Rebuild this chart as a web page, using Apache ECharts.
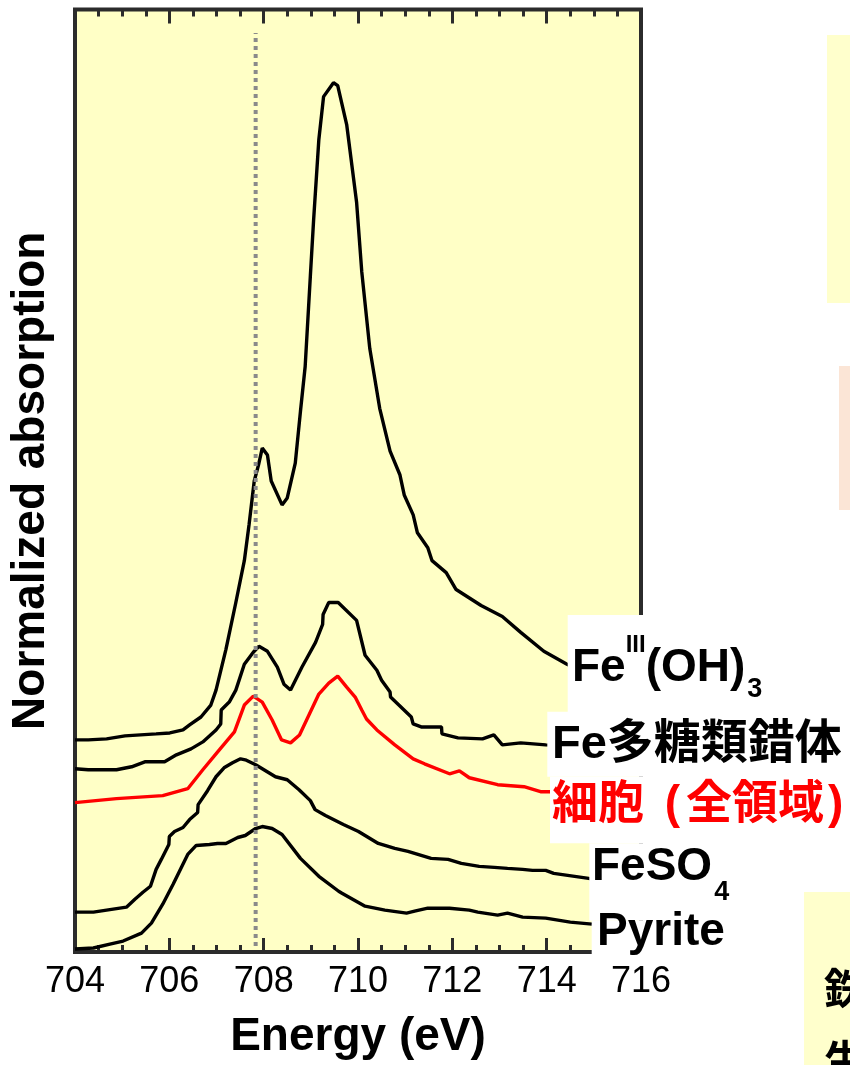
<!DOCTYPE html>
<html>
<head>
<meta charset="utf-8">
<script src="https://cdn.jsdelivr.net/npm/echarts@6/dist/echarts.min.js"></script>
<style>
  html, body { margin: 0; padding: 0; background: #ffffff; }
  #chart { width: 850px; height: 1065px; }
</style>
</head>
<body>
<div id="chart"></div>
<script>
// Fe L-edge XANES spectra, offset vertically (energy in eV, absorption in arbitrary units)
const energyTicks = [704, 706, 708, 710, 712, 714, 716];

const feOH3 = [[704.0,2.13],[704.28,2.13],[704.67,2.14],[705.06,2.17],[705.09,2.19],[705.72,2.19],[706.01,2.20],[706.29,2.23],[706.43,2.28],[706.67,2.36],[706.88,2.48],[706.99,2.63],[707.20,3.04],[707.41,3.51],[707.59,3.93],[707.69,4.29],[707.80,4.73],[707.89,4.89],[707.97,5.06],[708.08,4.99],[708.16,4.73],[708.39,4.49],[708.50,4.56],[708.67,4.91],[708.78,5.43],[708.88,5.88],[708.99,6.79],[709.06,7.36],[709.17,8.16],[709.27,8.59],[709.48,8.73],[709.57,8.70],[709.76,8.31],[709.97,7.53],[710.08,6.83],[710.25,6.06],[710.46,5.46],[710.68,5.03],[710.89,4.79],[710.98,4.59],[711.17,4.39],[711.26,4.21],[711.48,4.06],[711.57,3.93],[711.87,3.81],[712.08,3.64],[712.61,3.48],[713.06,3.37],[713.45,3.21],[713.94,3.02],[714.43,2.89],[714.93,2.78],[715.0,2.77]];

const fePolysaccharide = [[704.0,1.84],[704.28,1.83],[704.88,1.83],[705.20,1.86],[705.48,1.91],[705.90,1.91],[706.15,1.98],[706.46,2.04],[706.71,2.11],[706.99,2.23],[707.09,2.29],[707.10,2.43],[707.27,2.51],[707.41,2.63],[707.59,2.89],[707.78,3.01],[707.90,3.07],[708.08,3.02],[708.29,2.86],[708.43,2.69],[708.57,2.63],[708.81,2.86],[709.10,3.11],[709.25,3.29],[709.26,3.39],[709.38,3.51],[709.58,3.51],[709.97,3.33],[710.15,2.98],[710.40,2.83],[710.50,2.73],[710.68,2.61],[710.69,2.56],[711.13,2.36],[711.17,2.29],[711.34,2.26],[711.77,2.26],[711.78,2.19],[712.12,2.15],[712.64,2.14],[712.88,2.18],[713.06,2.08],[713.45,2.10],[713.98,2.08],[715.0,2.07]];

const cellWhole = [[704.0,1.50],[704.88,1.54],[705.86,1.57],[706.39,1.64],[706.71,1.83],[707.06,2.03],[707.38,2.21],[707.59,2.48],[707.78,2.57],[707.97,2.51],[708.18,2.33],[708.38,2.13],[708.57,2.10],[708.76,2.18],[708.96,2.38],[709.17,2.59],[709.38,2.70],[709.57,2.77],[709.76,2.66],[709.94,2.56],[710.08,2.43],[710.18,2.34],[710.40,2.23],[710.78,2.08],[711.17,1.94],[711.41,1.89],[711.94,1.79],[712.15,1.82],[712.36,1.75],[712.96,1.68],[713.52,1.66],[713.87,1.61],[714.05,1.61],[715.0,1.60]];

const feSO4 = [[704.0,0.40],[704.39,0.40],[705.09,0.45],[705.27,0.53],[705.44,0.60],[705.60,0.66],[705.72,0.83],[705.83,0.93],[705.99,1.08],[706.00,1.16],[706.11,1.21],[706.29,1.25],[706.43,1.33],[706.60,1.40],[706.61,1.48],[706.81,1.62],[706.99,1.76],[707.16,1.85],[707.34,1.90],[707.51,1.94],[707.61,1.93],[707.83,1.88],[708.25,1.76],[708.50,1.73],[708.75,1.63],[708.99,1.52],[709.09,1.43],[709.31,1.37],[709.69,1.28],[710.01,1.21],[710.43,1.09],[710.78,1.04],[711.06,1.01],[711.55,0.94],[711.91,0.93],[712.19,0.89],[712.57,0.86],[712.89,0.85],[713.17,0.84],[713.49,0.83],[713.70,0.82],[713.98,0.82],[714.15,0.79],[714.89,0.74],[715.0,0.73]];

const pyrite = [[704.0,0.03],[704.39,0.04],[704.74,0.08],[705.02,0.11],[705.41,0.19],[705.62,0.29],[705.86,0.48],[706.08,0.68],[706.39,0.98],[706.57,1.07],[706.85,1.08],[707.02,1.09],[707.20,1.09],[707.45,1.15],[707.61,1.17],[707.83,1.24],[707.97,1.26],[708.18,1.24],[708.39,1.18],[708.78,0.94],[709.17,0.76],[709.59,0.61],[709.66,0.59],[710.15,0.46],[710.57,0.42],[711.03,0.39],[711.20,0.41],[711.48,0.44],[711.94,0.44],[712.36,0.42],[712.54,0.40],[712.96,0.37],[713.17,0.39],[713.49,0.35],[713.98,0.34],[714.50,0.30],[714.96,0.28]];

// Fe(II) reference energy marker
const refLine = [[707.83, 0.06], [707.83, 9.23]];

const LAT = '"Liberation Sans", Arial, sans-serif';
const MIX = '"Liberation Sans", "Noto Sans CJK JP", sans-serif';
const FRAME = '#2b2b2b';

const chart = echarts.init(document.getElementById('chart'), null, { renderer: 'canvas' });

function curve(name, data, color) {
  return {
    name, type: 'line', data,
    xAxisIndex: 0, yAxisIndex: 0,
    showSymbol: false, symbol: 'none', smooth: false,
    lineStyle: { color, width: 3.4 },
    z: 3, animation: false
  };
}

const tickAxis = (pos, showLabel) => ({
  type: 'value', position: pos, gridIndex: 0,
  min: energyTicks[0], max: energyTicks[energyTicks.length - 1], interval: 2,
  axisLine: { show: false },
  axisTick: { show: true, inside: true, length: 14, lineStyle: { color: FRAME, width: 3 } },
  minorTick: { show: true, splitNumber: 4, length: 7, lineStyle: { color: FRAME, width: 3 } },
  splitLine: { show: false },
  minorSplitLine: { show: false },
  axisLabel: {
    show: showLabel, fontSize: 36, color: '#000', fontFamily: LAT, margin: 12
  }
});

const bottomAxis = Object.assign(tickAxis('bottom', true), {
  name: 'Energy (eV)', nameLocation: 'middle', nameGap: 62,
  nameTextStyle: { fontSize: 46, fontWeight: 'bold', color: '#000', fontFamily: LAT }
});

const labelStyle = (text, x, y, fill, rich, size) => ({
  type: 'text', z: 110,
  style: {
    text, x, y, fill, align: 'left', verticalAlign: 'middle',
    fontSize: size || 46, fontWeight: 'bold', fontFamily: MIX, rich
  }
});

const chemRich = (lh, supH, subH) => ({
  m: { fontSize: 46, fontWeight: 'bold', fontFamily: LAT, fill: '#000', lineHeight: lh, verticalAlign: 'middle' },
  sup: { fontSize: 24, fontWeight: 'bold', fontFamily: LAT, fill: '#000', lineHeight: supH, verticalAlign: 'top' },
  sub: { fontSize: 27, fontWeight: 'bold', fontFamily: LAT, fill: '#000', lineHeight: subH, verticalAlign: 'bottom', padding: [0, 0, 0, 2] }
});

const cellRich = {
  c: { fontSize: 46, fontWeight: 'bold', fontFamily: MIX, fill: '#FF0000' },
  p: { fontSize: 46, fontWeight: 'bold', fontFamily: LAT, fill: '#FF0000', padding: [0, 6, 0, 8] },
  q: { fontSize: 46, fontWeight: 'bold', fontFamily: LAT, fill: '#FF0000', padding: [0, 0, 0, 4] }
};

const option = {
  backgroundColor: '#ffffff',
  animation: false,
  grid: {
    left: 71.5, right: 209, top: 9.5, bottom: 109,
    show: true, backgroundColor: '#FFFFC6', borderColor: FRAME, borderWidth: 4
  },
  xAxis: [bottomAxis, tickAxis('top', false)],
  yAxis: [{
    type: 'value', min: 0, max: 9.465,
    axisLine: { show: false }, axisTick: { show: false }, axisLabel: { show: false },
    splitLine: { show: false },
    name: 'Normalized absorption', nameLocation: 'middle', nameGap: 21,
    nameTextStyle: { fontSize: 46, fontWeight: 'bold', color: '#000', fontFamily: LAT }
  }],
  series: [
    curve('Fe(III)(OH)3', feOH3, '#000000'),
    curve('Fe多糖類錯体', fePolysaccharide, '#000000'),
    curve('細胞 (全領域)', cellWhole, '#FF0000'),
    curve('FeSO4', feSO4, '#000000'),
    curve('Pyrite', pyrite, '#000000'),
    {
      name: 'ref', type: 'line', data: refLine,
      showSymbol: false, symbol: 'none',
      lineStyle: { color: '#8a8a8a', width: 4, type: [4, 4] },
      z: 4, animation: false
    }
  ],
  graphic: [
    // label backing panels
    { type: 'rect', z: 100, shape: { x: 567.7, y: 615, width: 283, height: 97 }, style: { fill: '#ffffff' } },
    { type: 'rect', z: 100, shape: { x: 547.3, y: 711.7, width: 303, height: 65 }, style: { fill: '#ffffff' } },
    { type: 'rect', z: 100, shape: { x: 550, y: 776.7, width: 300, height: 66.6 }, style: { fill: '#ffffff' } },
    { type: 'rect', z: 100, shape: { x: 589.3, y: 843.3, width: 215, height: 77.4 }, style: { fill: '#ffffff' } },
    { type: 'rect', z: 100, shape: { x: 591.7, y: 920.7, width: 212, height: 40 }, style: { fill: '#ffffff' } },

    // side panels of the slide
    { type: 'rect', z: 100, shape: { x: 827, y: 35, width: 23, height: 268 }, style: { fill: '#FFFFCC' } },
    { type: 'rect', z: 100, shape: { x: 839, y: 366, width: 11, height: 144 }, style: { fill: '#FBE5D6' } },
    { type: 'rect', z: 105, shape: { x: 804, y: 892, width: 46, height: 173 }, style: { fill: '#FFFFCC' } },
    { type: 'text', z: 106, style: { text: '鉄', x: 824, y: 988, fill: '#000', align: 'left', verticalAlign: 'middle', fontSize: 42, fontWeight: 'bold', fontFamily: '"Noto Sans CJK JP", sans-serif' } },
    { type: 'text', z: 106, style: { text: '生', x: 824, y: 1060, fill: '#000', align: 'left', verticalAlign: 'middle', fontSize: 42, fontWeight: 'bold', fontFamily: '"Noto Sans CJK JP", sans-serif' } },

    // curve labels
    labelStyle('{m|Fe}{sup|III}{m|(OH)}{sub|3}', 572, 668, '#000', chemRich(70, 41, 16)),
    labelStyle('Fe多糖類錯体', 552, 745, '#000', null, 47),
    labelStyle('{c|細胞} {p|(}{c|全領域}{q|)}', 552, 805, '#FF0000', cellRich),
    labelStyle('{m|FeSO}{sub|4}', 592, 867, '#000', chemRich(78, 20, 16)),
    labelStyle('Pyrite', 597, 932, '#000')
  ]
};

chart.setOption(option);
</script>
</body>
</html>
